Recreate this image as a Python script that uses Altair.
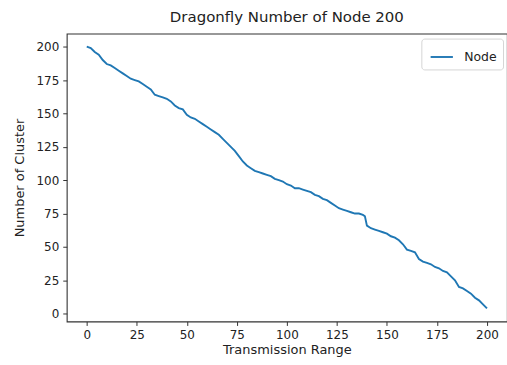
import altair as alt
import pandas as pd

x_vals = [0, 2, 4, 6, 8, 10, 12, 14, 16, 18, 20, 22, 24, 26, 28, 30, 32, 34, 36, 38,
          40, 42, 44, 46, 48, 50, 52, 54, 56, 58, 60, 62, 64, 66, 68, 70, 72, 74, 76, 78,
          80, 82, 84, 86, 88, 90, 92, 94, 96, 98, 100, 102, 104, 106, 108, 110, 112, 114, 116, 118,
          120, 122, 124, 126, 128, 130, 132, 134, 136, 138, 139, 140, 142, 144, 146, 148, 150, 152, 154, 156,
          158, 160, 162, 164, 166, 168, 170, 172, 174, 176, 178, 180, 182, 184, 186, 188, 190, 192, 194, 196,
          198, 200]
y_vals = [200, 199, 196, 194, 190, 187, 186, 184, 182, 180, 178, 176, 175, 174, 172, 170, 168, 164, 163, 162,
          161, 159, 156, 154, 153, 149, 147, 146, 144, 142, 140, 138, 136, 134, 131, 128, 125, 122, 118, 114,
          111, 109, 107, 106, 105, 104, 103, 101, 100, 99, 97, 96, 94, 94, 93, 92, 91, 89, 88, 86,
          85, 83, 81, 79, 78, 77, 76, 75, 75, 74, 73, 66, 64, 63, 62, 61, 60, 58, 57, 55,
          52, 48, 47, 46, 41, 39, 38, 37, 35, 34, 32, 31, 28, 25, 20, 19, 17, 15, 12, 10,
          7, 4]
ticks = [0, 25, 50, 75, 100, 125, 150, 175, 200]

df = pd.DataFrame({"x": x_vals, "y": y_vals, "series": ["Node"] * len(x_vals)})

font = "DejaVu Sans"

chart = alt.Chart(df).mark_line(strokeWidth=1.9, clip=True).encode(
    x=alt.X("x:Q", scale=alt.Scale(domain=[-10, 210], nice=False, zero=False),
            axis=alt.Axis(values=ticks, title="Transmission Range", grid=False, domain=False,
                          tickColor="#333333", tickSize=4, labelPadding=4, labelFontSize=12,
                          labelColor="#222222", titleFontSize=13, titleFontWeight="normal",
                          titleColor="#222222", titlePadding=3, labelFont=font, titleFont=font)),
    y=alt.Y("y:Q", scale=alt.Scale(domain=[-5.8, 209.8], nice=False, zero=False),
            axis=alt.Axis(values=ticks, title="Number of Cluster", grid=False, domain=False,
                          tickColor="#333333", tickSize=4, labelPadding=4, labelFontSize=12,
                          labelColor="#222222", titleFontSize=13, titleFontWeight="normal",
                          titleColor="#222222", titlePadding=9, labelFont=font, titleFont=font)),
    color=alt.Color("series:N", scale=alt.Scale(domain=["Node"], range=["#1f77b4"]),
                    legend=alt.Legend(title=None, orient="none", legendX=356, legendY=5,
                                      symbolType="stroke", symbolSize=500, symbolStrokeWidth=1.9,
                                      strokeColor="#d5d5d5", fillColor="white", cornerRadius=3,
                                      padding=6, labelFontSize=12.5, labelFont=font,
                                      labelColor="#222222", symbolOffset=2, labelOffset=10)),
).properties(
    width=442,
    height=289,
    title=alt.TitleParams("Dragonfly Number of Node 200", fontSize=15, fontWeight="normal",
                          font=font, color="#222222", offset=9),
    autosize="none",
    padding={"left": 67, "top": 33, "right": 0, "bottom": 43},
).configure(background="white").configure_view(stroke="#333333", strokeWidth=1.1)

chart.save("out.html", embed_options={"renderer": "svg", "actions": False})
